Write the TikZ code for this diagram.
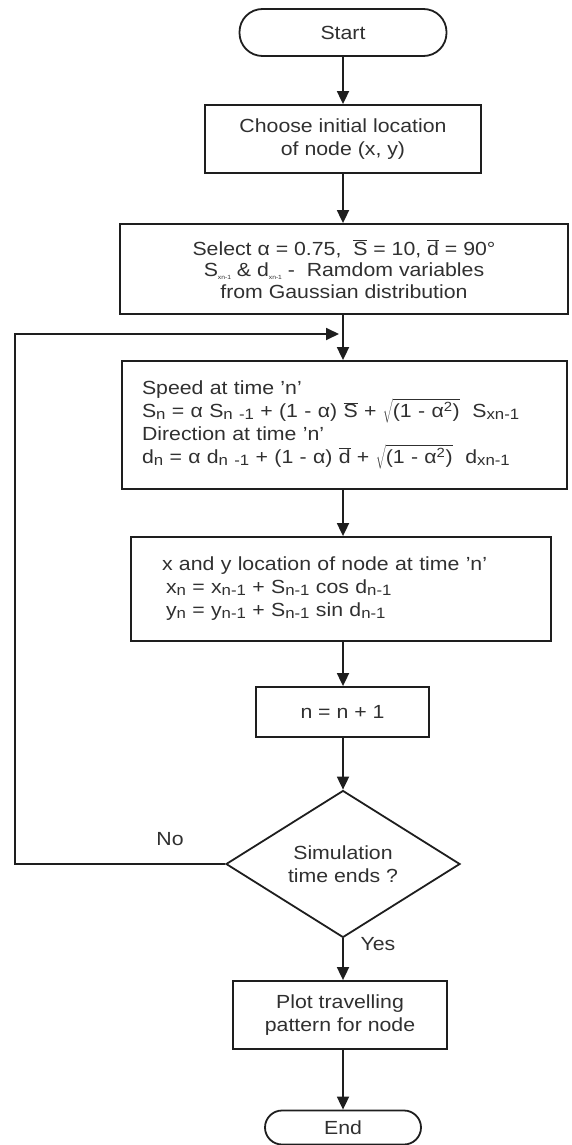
\documentclass[tikz,border=0pt]{standalone}
\usepackage{fontspec}
\setmainfont{Liberation Sans}[FakeStretch=1.12]
\usetikzlibrary{shapes.geometric,arrows.meta}
\definecolor{txt}{HTML}{303030}
\definecolor{ln}{HTML}{1E1E1E}
\newcommand{\lo}[1]{\raisebox{-0.1em}{\fontsize{15}{15}\selectfont #1}}
\newcommand{\tlo}[1]{\raisebox{-0.15em}{\fontsize{6}{6}\selectfont #1}}
\newcommand{\barS}{$\overline{\mbox{S}}$}
\newcommand{\bard}{$\overline{\mbox{d}}$}
\newcommand{\rt}{$\sqrt{\mbox{(1 - α\textsuperscript{2})}}$}
\begin{document}
\begin{tikzpicture}[x=1pt,y=-1pt,
  every node/.style={text=txt, font=\fontsize{19}{23}\selectfont},
  box/.style={draw=ln, line width=1.8pt, align=center, inner sep=0pt},
  term/.style={box, rounded corners=23pt},
  dec/.style={draw=ln, line width=1.8pt, diamond, align=center, inner sep=0pt},
  arr/.style={draw=ln, line width=1.8pt, -{Triangle[length=13pt,width=12pt]}},
  lnk/.style={draw=ln, line width=1.8pt}]
\useasboundingbox (0,0) rectangle (571,1145);
\node[term, minimum width=207pt, minimum height=47pt] (start) at (343,32.5) {Start};
\node[box, minimum width=276pt, minimum height=68pt] (b1) at (343,139) {Choose initial location\\of node (x, y)};
\node[box, minimum width=448pt, minimum height=90pt, font=\fontsize{19}{21.5}\selectfont] (b2) at (344,269)
  {Select α = 0.75,\ \ \barS{} = 10, \bard{} = 90°\\
   S\tlo{xn-1} \& d\tlo{xn-1} -\ \ Ramdom variables\\
   from Gaussian distribution};
\node[box, minimum width=445pt, minimum height=128pt, text width=405pt, align=left] (b3) at (344.5,425)
  {Speed at time 'n'\\
   S\lo{n} = α S\lo{n -1} + (1 - α) \barS{} + \rt{}\ \ S\lo{xn-1}\\
   Direction at time 'n'\\
   d\lo{n} = α d\lo{n -1} + (1 - α) \bard{} + \rt{}\ \ d\lo{xn-1}};
\node[box, minimum width=420pt, minimum height=104pt, text width=358pt, align=left] (b4) at (341,589)
  {x and y location of node at time 'n'\\
   \hspace{4pt}x\lo{n} = x\lo{n-1} + S\lo{n-1} cos d\lo{n-1}\\
   \hspace{4pt}y\lo{n} = y\lo{n-1} + S\lo{n-1} sin d\lo{n-1}};
\node[box, minimum width=173pt, minimum height=50pt] (b5) at (342.5,712) {n = n + 1};
\node[dec, minimum width=234pt, minimum height=126pt] (d) at (343,864) {Simulation\\time ends ?};
\node[box, minimum width=214pt, minimum height=68pt] (b6) at (340,1015) {Plot travelling\\pattern for node};
\node[term, minimum width=156pt, minimum height=34pt, rounded corners=17pt] (end) at (343,1127.5) {End};
\node (no) at (170,839) {No};
\node (yes) at (378,944) {Yes};
\coordinate (j) at (343,334);
\coordinate (lb) at (15,864);
\coordinate (lt) at (15,334);
\draw[arr] (start.south -| 343,0) -- (b1.north -| 343,0);
\draw[arr] (b1.south -| 343,0) -- (b2.north -| 343,0);
\draw[arr] (b2.south -| 343,0) -- (b3.north -| 343,0);
\draw[arr] (b3.south -| 343,0) -- (b4.north -| 343,0);
\draw[arr] (b4.south -| 343,0) -- (b5.north -| 343,0);
\draw[arr] (b5.south -| 343,0) -- (d.north);
\draw[arr] (d.south) -- (b6.north -| 343,0);
\draw[arr] (b6.south -| 343,0) -- (end.north -| 343,0);
\draw[arr, shorten >=4pt] (d.west) -- (lb) -- (lt) -- (j);
\end{tikzpicture}
\end{document}
